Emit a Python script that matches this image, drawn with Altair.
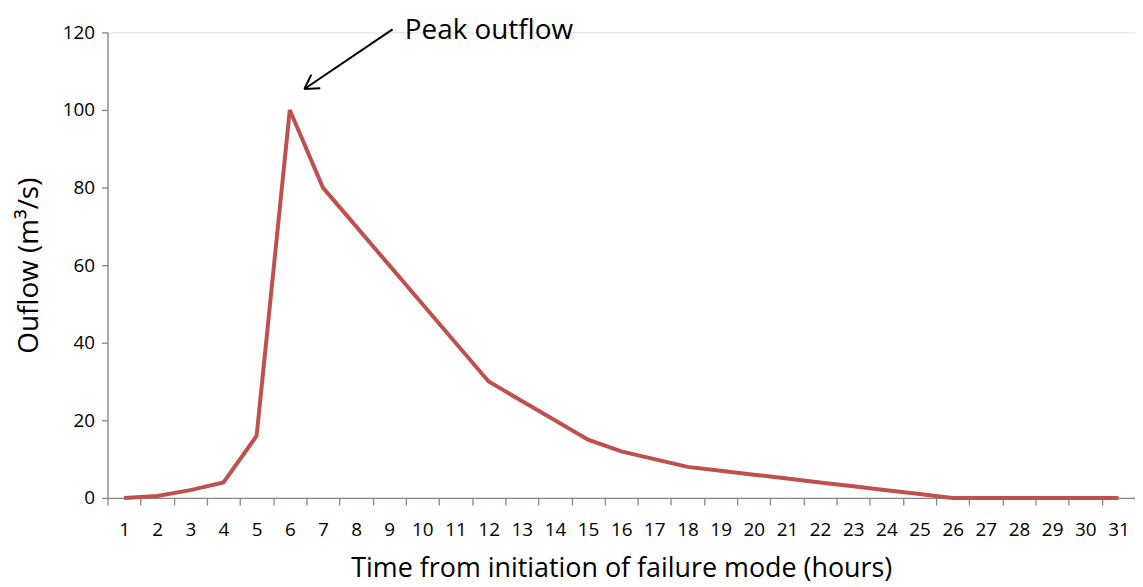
import altair as alt
import pandas as pd

hours = list(range(1, 32))
outflow = [0, 0.5, 2, 4, 16, 100, 80, 70, 60, 50, 40, 30, 25, 20, 15, 12, 10, 8,
           7, 6, 5, 4, 3, 2, 1, 0, 0, 0, 0, 0, 0]

# annotation (data units: hour position, outflow)
arrow_tail = (9.1, 120.8)
arrow_tip = (6.44, 105.4)
head_wings = [(6.92, 105.6), (6.65, 109.1)]
label_text = "Peak outflow"
label_pos = (9.47, 118.2)

x_title = "Time from initiation of failure mode  (hours)"
y_title = "Ouflow (m³/s)"

FONT = "Open Sans"
RED = "#C0504D"
GREY = "#868686"

df = pd.DataFrame({"hour": hours, "outflow": outflow})

y_scale = alt.Scale(domain=[0, 120], nice=False)
xq_scale = alt.Scale(domain=[0.5, 31.5], nice=False, zero=False)

x_axis = alt.Axis(
    tickBand="extent", labelAngle=0,
    tickSize=7, tickColor=GREY, domainColor=GREY, domainWidth=1.3, tickWidth=1.3,
    labelFont=FONT, labelFontSize=19, labelColor="black", labelPadding=16,
    grid=False, title=x_title, titleFont=FONT, titleFontSize=27,
    titleFontWeight="normal", titleColor="black", titlePadding=16,
)
y_axis = alt.Axis(
    values=[0, 20, 40, 60, 80, 100, 120],
    tickSize=6, tickColor=GREY, domainColor=GREY, domainWidth=1.3, tickWidth=1.3,
    labelFont=FONT, labelFontSize=19, labelColor="black", labelPadding=7,
    grid=False, title=y_title, titleFont=FONT, titleFontSize=28,
    titleFontWeight="normal", titleColor="black", titlePadding=19,
)

line = alt.Chart(df).mark_line(color=RED, strokeWidth=4, strokeJoin="miter").encode(
    x=alt.X("hour:O", bandPosition=0.5,
            scale=alt.Scale(type="band", paddingInner=0, paddingOuter=0), axis=x_axis),
    y=alt.Y("outflow:Q", scale=y_scale, axis=y_axis),
)

seg_df = pd.DataFrame({
    "x": [arrow_tail[0]] + [arrow_tip[0]] * len(head_wings),
    "y": [arrow_tail[1]] + [arrow_tip[1]] * len(head_wings),
    "x2": [arrow_tip[0]] + [w[0] for w in head_wings],
    "y2": [arrow_tip[1]] + [w[1] for w in head_wings],
})
label_df = pd.DataFrame({"x": [label_pos[0]], "y": [label_pos[1]], "t": [label_text]})

arrow = alt.Chart(seg_df).mark_rule(color="black", strokeWidth=2, clip=False).encode(
    x=alt.X("x:Q", scale=xq_scale, axis=None), y=alt.Y("y:Q", scale=y_scale),
    x2="x2:Q", y2="y2:Q",
)
label = alt.Chart(label_df).mark_text(
    align="left", baseline="alphabetic", font=FONT, fontSize=28, color="black", clip=False
).encode(x=alt.X("x:Q", scale=xq_scale, axis=None),
         y=alt.Y("y:Q", scale=y_scale), text="t:N")

annot = alt.layer(arrow, label)

chart = alt.layer(line, annot).resolve_scale(x="independent").properties(
    width=1033, height=468,
    autosize=alt.AutoSizeParams(type="none"),
    padding={"left": 100, "top": 23, "right": 0, "bottom": 86},
).configure_view(stroke=None).configure(background="white")

chart.save("out.html", embed_options={"renderer": "svg", "actions": False})
